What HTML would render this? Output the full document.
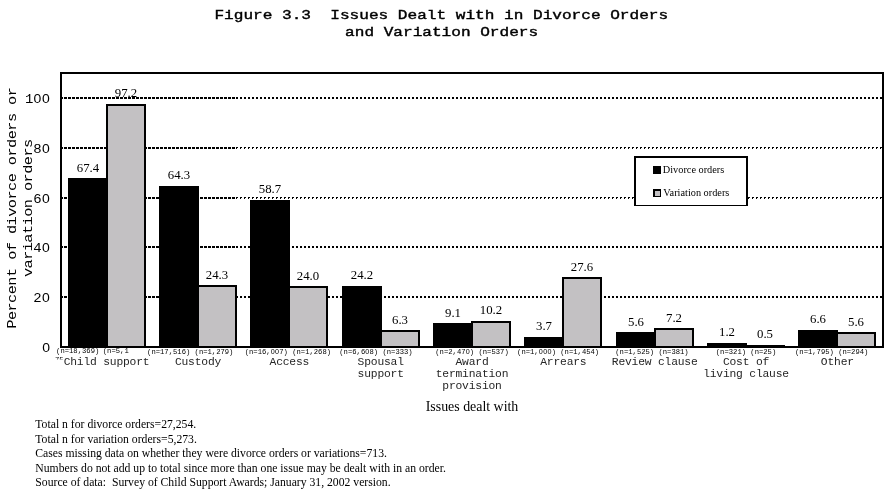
<!DOCTYPE html>
<html><head><meta charset="utf-8"><title>Figure 3.3</title>
<style>
html,body{margin:0;padding:0;background:#fff;}
body{width:894px;height:493px;overflow:hidden;font-family:"Liberation Serif",serif;}
svg{display:block;}
.mono{font-family:"Liberation Mono",monospace;}
.serif{font-family:"Liberation Serif",serif;}
</style></head><body>
<svg width="894" height="493" viewBox="0 0 894 493" style="will-change:transform">
<rect x="0" y="0" width="894" height="493" fill="#fff"/>

<text class="mono" transform="translate(441.30,18.60) scale(1.2048,1)" font-size="13.36" text-anchor="middle" fill="#000" xml:space="preserve" stroke="#000" stroke-width="0.4">Figure 3.3  Issues Dealt with in Divorce Orders</text>
<text class="mono" transform="translate(441.60,35.80) scale(1.2048,1)" font-size="13.36" text-anchor="middle" fill="#000" xml:space="preserve" stroke="#000" stroke-width="0.4">and Variation Orders</text>
<g stroke="#000" stroke-width="2" shape-rendering="crispEdges">
<line x1="62" x2="63" y1="297" y2="297"/><line x1="64" x2="236" y1="297" y2="297" stroke-dasharray="3 1"/>
<line x1="236" x2="882" y1="297" y2="297" stroke-dasharray="2 2"/>
<line x1="62" x2="63" y1="247" y2="247"/><line x1="64" x2="236" y1="247" y2="247" stroke-dasharray="3 1"/>
<line x1="236" x2="882" y1="247" y2="247" stroke-dasharray="2 2"/>
<line x1="62" x2="63" y1="198" y2="198"/><line x1="64" x2="236" y1="198" y2="198" stroke-dasharray="3 1"/>
<line x1="236" x2="882" y1="197.5" y2="197.5" stroke-width="1" stroke-dasharray="2 2"/><line x1="236" x2="882" y1="198.5" y2="198.5" stroke-width="1" stroke-dasharray="1 3"/>
<line x1="62" x2="63" y1="148" y2="148"/><line x1="64" x2="236" y1="148" y2="148" stroke-dasharray="3 1"/>
<line x1="236" x2="882" y1="147.5" y2="147.5" stroke-width="1" stroke-dasharray="2 2"/><line x1="236" x2="882" y1="148.5" y2="148.5" stroke-width="1" stroke-dasharray="1 3"/>
<line x1="62" x2="63" y1="98" y2="98"/><line x1="64" x2="236" y1="98" y2="98" stroke-dasharray="3 1"/>
<line x1="236" x2="882" y1="98" y2="98" stroke-dasharray="2 2"/>
</g>

<rect x="61.0" y="73.0" width="822.0" height="274.0" fill="none" stroke="#000" stroke-width="2" shape-rendering="crispEdges"/>

<g shape-rendering="crispEdges">
<rect x="68" y="178" width="40" height="168" fill="#000"/>
<rect x="106" y="104" width="40" height="242" fill="#000"/>
<rect x="108" y="106" width="36" height="240" fill="#c3c1c3"/>
<rect x="159" y="186" width="40" height="160" fill="#000"/>
<rect x="197" y="285" width="40" height="61" fill="#000"/>
<rect x="199" y="287" width="36" height="59" fill="#c3c1c3"/>
<rect x="250" y="200" width="40" height="146" fill="#000"/>
<rect x="288" y="286" width="40" height="60" fill="#000"/>
<rect x="290" y="288" width="36" height="58" fill="#c3c1c3"/>
<rect x="342" y="286" width="40" height="60" fill="#000"/>
<rect x="380" y="330" width="40" height="16" fill="#000"/>
<rect x="382" y="332" width="36" height="14" fill="#c3c1c3"/>
<rect x="433" y="323" width="40" height="23" fill="#000"/>
<rect x="471" y="321" width="40" height="25" fill="#000"/>
<rect x="473" y="323" width="36" height="23" fill="#c3c1c3"/>
<rect x="524" y="337" width="40" height="9" fill="#000"/>
<rect x="562" y="277" width="40" height="69" fill="#000"/>
<rect x="564" y="279" width="36" height="67" fill="#c3c1c3"/>
<rect x="616" y="332" width="40" height="14" fill="#000"/>
<rect x="654" y="328" width="40" height="18" fill="#000"/>
<rect x="656" y="330" width="36" height="16" fill="#c3c1c3"/>
<rect x="707" y="343" width="40" height="3" fill="#000"/>
<rect x="745" y="345" width="40" height="1" fill="#000"/>
<rect x="798" y="330" width="40" height="16" fill="#000"/>
<rect x="836" y="332" width="40" height="14" fill="#000"/>
<rect x="838" y="334" width="36" height="12" fill="#c3c1c3"/>
</g>

<rect x="60" y="346" width="824" height="2" fill="#000" shape-rendering="crispEdges"/>

<g class="serif" font-size="12.8" text-anchor="middle" fill="#000">
<text x="88.0" y="171.6">67.4</text>
<text x="126.0" y="97.4">97.2</text>
<text x="179.0" y="179.3">64.3</text>
<text x="217.0" y="278.9">24.3</text>
<text x="270.0" y="193.2">58.7</text>
<text x="308.0" y="279.6">24.0</text>
<text x="362.0" y="279.1">24.2</text>
<text x="400.0" y="323.7">6.3</text>
<text x="453.0" y="316.7">9.1</text>
<text x="491.0" y="314.0">10.2</text>
<text x="544.0" y="330.2">3.7</text>
<text x="582.0" y="270.7">27.6</text>
<text x="636.0" y="325.5">5.6</text>
<text x="674.0" y="321.5">7.2</text>
<text x="727.0" y="336.4">1.2</text>
<text x="765.0" y="338.2">0.5</text>
<text x="818.0" y="323.0">6.6</text>
<text x="856.0" y="325.5">5.6</text>
</g>

<text class="mono" transform="translate(49.80,351.60) scale(1.0309,1)" font-size="13.58" text-anchor="end" fill="#000" xml:space="preserve" ><tspan font-family="Liberation Sans" dx="0.299">0</tspan></text>
<text class="mono" transform="translate(49.80,301.60) scale(1.0309,1)" font-size="13.58" text-anchor="end" fill="#000" xml:space="preserve" >2<tspan font-family="Liberation Sans" dx="0.299">0</tspan></text>
<text class="mono" transform="translate(49.80,251.60) scale(1.0309,1)" font-size="13.58" text-anchor="end" fill="#000" xml:space="preserve" >4<tspan font-family="Liberation Sans" dx="0.299">0</tspan></text>
<text class="mono" transform="translate(49.80,202.60) scale(1.0309,1)" font-size="13.58" text-anchor="end" fill="#000" xml:space="preserve" >6<tspan font-family="Liberation Sans" dx="0.299">0</tspan></text>
<text class="mono" transform="translate(49.80,152.60) scale(1.0309,1)" font-size="13.58" text-anchor="end" fill="#000" xml:space="preserve" >8<tspan font-family="Liberation Sans" dx="0.299">0</tspan></text>
<text class="mono" transform="translate(49.80,102.60) scale(1.0309,1)" font-size="13.58" text-anchor="end" fill="#000" xml:space="preserve" >1<tspan font-family="Liberation Sans" dx="0.299">0</tspan><tspan font-family="Liberation Sans" dx="0.598">0</tspan></text>
<text class="mono" transform="translate(16.30,208.20) rotate(-90) scale(1.1500,1)" font-size="13.35" letter-spacing="-0.520" text-anchor="middle" fill="#000" xml:space="preserve" >Percent of divorce orders or</text>
<text class="mono" transform="translate(32.40,208.20) rotate(-90) scale(1.1500,1)" font-size="13.35" letter-spacing="-0.520" text-anchor="middle" fill="#000" xml:space="preserve" >variation orders</text>
<text class="mono" transform="translate(56.10,352.90) scale(1.0526,1)" font-size="6.84" text-anchor="start" fill="#000" xml:space="preserve" >(n=18,369)</text>
<text class="mono" transform="translate(102.80,352.90) scale(1.0526,1)" font-size="6.84" text-anchor="start" fill="#000" xml:space="preserve" >(n=5,1</text>
<text class="mono" transform="translate(147.10,354.20) scale(1.0526,1)" font-size="6.84" text-anchor="start" fill="#000" xml:space="preserve" >(n=17,516) (n=1,279)</text>
<text class="mono" transform="translate(244.70,354.20) scale(1.0526,1)" font-size="6.84" text-anchor="start" fill="#000" xml:space="preserve" >(n=16,<tspan font-family="Liberation Sans" dx="0.150">0</tspan><tspan font-family="Liberation Sans" dx="0.301">0</tspan><tspan dx="0.150">7</tspan>) (n=1,268)</text>
<text class="mono" transform="translate(339.30,354.20) scale(1.0526,1)" font-size="6.84" text-anchor="start" fill="#000" xml:space="preserve" >(n=6,6<tspan font-family="Liberation Sans" dx="0.150">0</tspan><tspan dx="0.150">8</tspan>) (n=333)</text>
<text class="mono" transform="translate(435.30,354.20) scale(1.0526,1)" font-size="6.84" text-anchor="start" fill="#000" xml:space="preserve" >(n=2,47<tspan font-family="Liberation Sans" dx="0.150">0</tspan><tspan dx="0.150">)</tspan> (n=537)</text>
<text class="mono" transform="translate(517.10,354.20) scale(1.0526,1)" font-size="6.84" text-anchor="start" fill="#000" xml:space="preserve" >(n=1,<tspan font-family="Liberation Sans" dx="0.150">0</tspan><tspan font-family="Liberation Sans" dx="0.301">0</tspan><tspan font-family="Liberation Sans" dx="0.301">0</tspan><tspan dx="0.150">)</tspan> (n=1,454)</text>
<text class="mono" transform="translate(615.30,354.20) scale(1.0526,1)" font-size="6.84" text-anchor="start" fill="#000" xml:space="preserve" >(n=1,525) (n=381)</text>
<text class="mono" transform="translate(715.80,354.20) scale(1.0526,1)" font-size="6.84" text-anchor="start" fill="#000" xml:space="preserve" >(n=321) (n=25)</text>
<text class="mono" transform="translate(795.00,354.20) scale(1.0526,1)" font-size="6.84" text-anchor="start" fill="#000" xml:space="preserve" >(n=1,795) (n=294)</text>
<clipPath id="c"><rect x="54" y="356" width="12" height="3.6"/></clipPath><g clip-path="url(#c)"><text class="mono" transform="translate(55.00,361.60) scale(1.0526,1)" font-size="6.84" text-anchor="start" fill="#000" xml:space="preserve" >75</text></g>
<text class="mono" transform="translate(106.50,364.70) scale(1.1200,1)" font-size="10.12" letter-spacing="-0.179" text-anchor="middle" fill="#262626" xml:space="preserve" >Child support</text>
<text class="mono" transform="translate(198.00,364.70) scale(1.1200,1)" font-size="10.12" letter-spacing="-0.179" text-anchor="middle" fill="#262626" xml:space="preserve" >Custody</text>
<text class="mono" transform="translate(289.33,364.70) scale(1.1200,1)" font-size="10.12" letter-spacing="-0.179" text-anchor="middle" fill="#262626" xml:space="preserve" >Access</text>
<text class="mono" transform="translate(380.67,364.70) scale(1.1200,1)" font-size="10.12" letter-spacing="-0.179" text-anchor="middle" fill="#262626" xml:space="preserve" >Spousal</text>
<text class="mono" transform="translate(380.67,376.70) scale(1.1200,1)" font-size="10.12" letter-spacing="-0.179" text-anchor="middle" fill="#262626" xml:space="preserve" >support</text>
<text class="mono" transform="translate(472.00,364.70) scale(1.1200,1)" font-size="10.12" letter-spacing="-0.179" text-anchor="middle" fill="#262626" xml:space="preserve" >Award</text>
<text class="mono" transform="translate(472.00,376.70) scale(1.1200,1)" font-size="10.12" letter-spacing="-0.179" text-anchor="middle" fill="#262626" xml:space="preserve" >termination</text>
<text class="mono" transform="translate(472.00,388.70) scale(1.1200,1)" font-size="10.12" letter-spacing="-0.179" text-anchor="middle" fill="#262626" xml:space="preserve" >provision</text>
<text class="mono" transform="translate(563.33,364.70) scale(1.1200,1)" font-size="10.12" letter-spacing="-0.179" text-anchor="middle" fill="#262626" xml:space="preserve" >Arrears</text>
<text class="mono" transform="translate(654.67,364.70) scale(1.1200,1)" font-size="10.12" letter-spacing="-0.179" text-anchor="middle" fill="#262626" xml:space="preserve" >Review clause</text>
<text class="mono" transform="translate(746.00,364.70) scale(1.1200,1)" font-size="10.12" letter-spacing="-0.179" text-anchor="middle" fill="#262626" xml:space="preserve" >Cost of</text>
<text class="mono" transform="translate(746.00,376.70) scale(1.1200,1)" font-size="10.12" letter-spacing="-0.179" text-anchor="middle" fill="#262626" xml:space="preserve" >living clause</text>
<text class="mono" transform="translate(837.33,364.70) scale(1.1200,1)" font-size="10.12" letter-spacing="-0.179" text-anchor="middle" fill="#262626" xml:space="preserve" >Other</text>
<text class="serif" font-size="13.9" text-anchor="middle" x="472" y="410.7">Issues dealt with</text>

<rect x="634" y="156" width="114" height="50" fill="#000" shape-rendering="crispEdges"/><rect x="636" y="158" width="110" height="47" fill="#fff" shape-rendering="crispEdges"/>
<rect x="653" y="166" width="8" height="8" fill="#000" shape-rendering="crispEdges"/>
<rect x="653" y="189" width="8" height="8" fill="#000" shape-rendering="crispEdges"/><rect x="655" y="191" width="5" height="5" fill="#c3c1c3" shape-rendering="crispEdges"/>
<g class="serif" font-size="10.3" fill="#000"><text x="662.8" y="172.7">Divorce orders</text><text x="663.3" y="195.7">Variation orders</text></g>

<g class="serif" font-size="11.7" fill="#000">
<text x="35.3" y="428.1" xml:space="preserve">Total n for divorce orders=27,254.</text>
<text x="35.3" y="442.9" xml:space="preserve">Total n for variation orders=5,273.</text>
<text x="35.3" y="457.1" xml:space="preserve">Cases missing data on whether they were divorce orders or variations=713.</text>
<text x="35.3" y="471.6" xml:space="preserve">Numbers do not add up to total since more than one issue may be dealt with in an order.</text>
<text x="35.3" y="486.4" xml:space="preserve">Source of data:  Survey of Child Support Awards; January 31, 2002 version.</text>
</g>

</svg>
</body></html>
